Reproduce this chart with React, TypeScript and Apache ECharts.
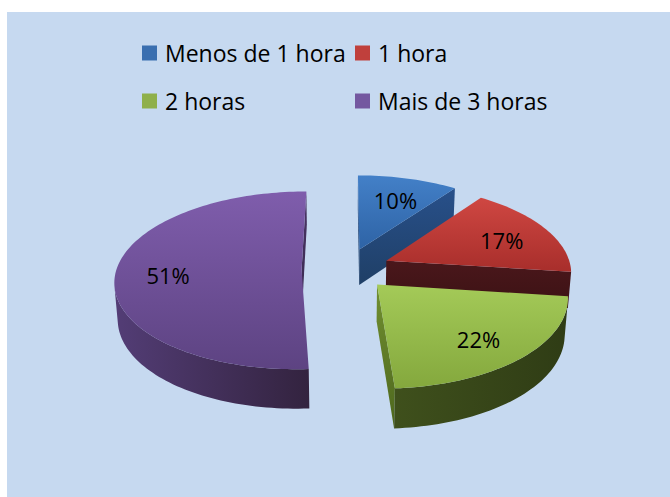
import React, { useEffect, useRef } from "react";
import * as echarts from "echarts";

// ---- data ----
const categories: string[] = ["Menos de 1 hora", "1 hora", "2 horas", "Mais de 3 horas"];
const values: number[] = [10, 17, 22, 51];
const legendColumnA: string[] = ["Menos de 1 hora", "2 horas"];
const legendColumnB: string[] = ["1 hora", "Mais de 3 horas"];

// ---- styles ----
const palette = [
  { base: "#3A6FB0", top: ["#4380C8", "#2E63A5"], wall: ["#2A548A", "#1F3E66"], face: ["#28508A", "#1F3F66"] },
  { base: "#C0403C", top: ["#CF4742", "#A82E2B"], wall: ["#4C191C", "#3A1214"], face: ["#4A171B", "#3C1214"] },
  { base: "#8FB04A", top: ["#A4CA58", "#84A83D"], wall: ["#3F501C", "#2F3C15"], face: ["#718F30", "#4D671E"] },
  { base: "#7458A0", top: ["#7F5DAC", "#5D4382"], wall: ["#533D76", "#33233F"], face: ["#4A3566", "#3A2A50"] },
];
const FONT = "'Open Sans', 'DejaVu Sans', sans-serif";

// ---- 3D projection ----
const CX = 346, CY = 269, FOCAL = 1358, Z0 = 7.34;
const TILT = (28.2 * Math.PI) / 180;
const COS = Math.cos(TILT), SIN = Math.sin(TILT);
const EXPLODE = 0.24, DEPTH = 0.225, LABEL_R = 0.72, LABEL_H = -0.02;
const CAM = [0, -Z0 * COS];

function project(u: number, v: number, h: number): number[] {
  const z = Z0 + v * COS - h * SIN;
  return [CX + (FOCAL * u) / z, CY - (FOCAL * (v * SIN + h * COS)) / z];
}

function grad(c: string[], horizontal: boolean) {
  return {
    type: "linear", x: 0, y: 0, x2: horizontal ? 1 : 0, y2: horizontal ? 0 : 1,
    colorStops: [{ offset: 0, color: c[0] }, { offset: 1, color: c[1] }],
  };
}

const total = values.reduce((a, b) => a + b, 0);
const starts: number[] = values.map((_, i) => values.slice(0, i).reduce((a, b) => a + b, 0));

function makeRender(idx: number) {
  const pal = palette[idx];
  return (_params: any, api: any) => {
    const value = api.value(0), start = api.value(1), tot = api.value(2);
    const a0 = (start / tot) * Math.PI * 2;
    const a1 = ((start + value) / tot) * Math.PI * 2;
    const mid = (a0 + a1) / 2;
    const ox = EXPLODE * Math.sin(mid), oy = EXPLODE * Math.cos(mid);
    const N = Math.max(2, Math.ceil((a1 - a0) / (Math.PI / 120)));
    const angles: number[] = [];
    for (let i = 0; i <= N; i++) angles.push(a0 + ((a1 - a0) * i) / N);
    const rim = (t: number, h: number) => project(ox + Math.sin(t), oy + Math.cos(t), h);

    const faces: { points: number[][]; fill: any; depth: number }[] = [];
    let runStart = -1;
    const flush = (s: number, e: number) => {
      const pts: number[][] = [];
      for (let k = s; k <= e + 1; k++) pts.push(rim(angles[k], 0));
      for (let k = e + 1; k >= s; k--) pts.push(rim(angles[k], -DEPTH));
      const tm = (angles[s] + angles[e + 1]) / 2;
      faces.push({ points: pts, fill: grad(pal.wall, true), depth: oy + Math.cos(tm) });
    };
    for (let i = 0; i < N; i++) {
      const t = (angles[i] + angles[i + 1]) / 2;
      const pu = ox + Math.sin(t), pv = oy + Math.cos(t);
      const vis = Math.sin(t) * (CAM[0] - pu) + Math.cos(t) * (CAM[1] - pv) > 0;
      if (vis && runStart < 0) runStart = i;
      if (!vis && runStart >= 0) { flush(runStart, i - 1); runStart = -1; }
    }
    if (runStart >= 0) flush(runStart, N - 1);

    const radial = (t: number, n: number[]) => {
      const vis = n[0] * (CAM[0] - ox) + n[1] * (CAM[1] - oy) > 0;
      if (!vis) return;
      const pts = [project(ox, oy, 0), rim(t, 0), rim(t, -DEPTH), project(ox, oy, -DEPTH)];
      faces.push({ points: pts, fill: grad(pal.face, false), depth: oy + Math.cos(t) / 2 });
    };
    radial(a0, [-Math.cos(a0), Math.sin(a0)]);
    radial(a1, [Math.cos(a1), -Math.sin(a1)]);

    faces.sort((p, q) => q.depth - p.depth);
    const children: any[] = faces.map((f) => ({
      type: "polygon", shape: { points: f.points }, style: { fill: f.fill },
    }));

    const topPts: number[][] = [project(ox, oy, 0)];
    for (const t of angles) topPts.push(rim(t, 0));
    children.push({ type: "polygon", shape: { points: topPts }, style: { fill: grad(pal.top, false) } });

    const lp = project(ox + LABEL_R * Math.sin(mid), oy + LABEL_R * Math.cos(mid), LABEL_H);
    children.push({
      type: "text",
      style: {
        text: Math.round((value / tot) * 100) + "%",
        x: lp[0], y: lp[1], align: "center", verticalAlign: "middle",
        fill: "#000000", font: `22px ${FONT}`,
      },
    });
    return { type: "group", children };
  };
}

export default function App() {
  const ref = useRef<HTMLDivElement>(null);
  useEffect(() => {
    if (!ref.current) return;
    const chart = echarts.init(ref.current, undefined, { renderer: "svg" });
    const mids = values.map((v, i) => ((starts[i] + v / 2) / total) * Math.PI * 2);
    const order = values.map((_, i) => i).sort((a, b) => Math.cos(mids[b]) - Math.cos(mids[a]));
    const legendCommon = {
      orient: "vertical", top: 41, padding: 0, itemWidth: 15, itemHeight: 15, itemGap: 24, icon: "rect",
      textStyle: { fontFamily: FONT, fontSize: 23, color: "#000", lineHeight: 24, padding: [0, 0, 0, 3] },
    };
    chart.setOption({
      animation: false,
      backgroundColor: "#ffffff",
      graphic: [{ type: "rect", z: -100, shape: { x: 7, y: 12, width: 663, height: 485 }, style: { fill: "#C6D9F0" } }],
      legend: [
        { ...legendCommon, left: 142, data: legendColumnA },
        { ...legendCommon, left: 355, data: legendColumnB },
      ],
      series: categories.map((name, i) => ({
        type: "custom",
        name,
        coordinateSystem: "none",
        z: 10 + order.indexOf(i),
        itemStyle: { color: palette[i].base },
        data: [[values[i], starts[i], total]],
        renderItem: makeRender(i),
      })),
    });
    return () => chart.dispose();
  }, []);
  return <div ref={ref} style={{ position: "absolute", left: 0, top: 0, width: 670, height: 497 }} />;
}
